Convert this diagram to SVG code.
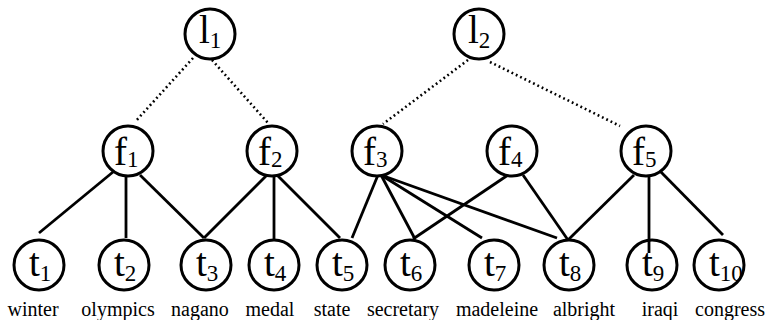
<svg xmlns="http://www.w3.org/2000/svg" width="767" height="320" viewBox="0 0 767 320">
<style>
.n{fill:#fff;stroke:#000;stroke-width:3}
.s{stroke:#000;stroke-width:2.8;fill:none}
.d{stroke:#000;stroke-width:2.6;fill:none;stroke-dasharray:1.8 3}
.lb{font-size:39px;fill:#000}
.sb{font-size:23px}
.w{font-size:20px;fill:#000;text-anchor:middle}
</style>
<rect width="767" height="320" fill="#fff"/>
<g id="connectors">
<line class="d" x1="193" y1="58" x2="135" y2="122"/>
<line class="d" x1="212" y1="60" x2="268" y2="123"/>
<line class="d" x1="468" y1="60" x2="383" y2="124"/>
<line class="d" x1="490" y1="62" x2="620" y2="126"/>
<line class="s" x1="113" y1="172" x2="39" y2="233"/>
<line class="s" x1="126" y1="175" x2="126" y2="238"/>
<line class="s" x1="140" y1="175" x2="204" y2="238"/>
<line class="s" x1="267" y1="175" x2="204" y2="238"/>
<line class="s" x1="274" y1="175" x2="274" y2="239"/>
<line class="s" x1="277" y1="175" x2="340" y2="238"/>
<line class="s" x1="378" y1="175" x2="352" y2="238"/>
<line class="s" x1="381" y1="175" x2="415" y2="239"/>
<line class="s" x1="381" y1="175" x2="482" y2="238"/>
<line class="s" x1="381" y1="175" x2="557" y2="238"/>
<line class="s" x1="508" y1="175" x2="413" y2="239"/>
<line class="s" x1="523" y1="175" x2="568" y2="240"/>
<line class="s" x1="634" y1="175" x2="568" y2="240"/>
<line class="s" x1="649" y1="173" x2="649" y2="253"/>
<line class="s" x1="657" y1="168" x2="723" y2="235"/>
</g>
<g font-family="Liberation Serif, Times New Roman, serif">
<g id="l1"><circle class="n" cx="210" cy="34" r="25"/><text class="lb" x="199" y="43">l<tspan class="sb" dy="5">1</tspan></text></g>
<g id="l2"><circle class="n" cx="479" cy="34" r="25"/><text class="lb" x="468" y="43">l<tspan class="sb" dy="5">2</tspan></text></g>
<g id="f1"><circle class="n" cx="128" cy="151" r="25"/><text class="lb" x="114" y="165">f<tspan class="sb" dy="2">1</tspan></text></g>
<g id="f2"><circle class="n" cx="272" cy="151" r="25"/><text class="lb" x="258" y="165">f<tspan class="sb" dy="2">2</tspan></text></g>
<g id="f3"><circle class="n" cx="377" cy="151" r="25"/><text class="lb" x="363" y="165">f<tspan class="sb" dy="2">3</tspan></text></g>
<g id="f4"><circle class="n" cx="512" cy="151" r="25"/><text class="lb" x="498" y="165">f<tspan class="sb" dy="2">4</tspan></text></g>
<g id="f5"><circle class="n" cx="646" cy="151" r="25"/><text class="lb" x="632" y="165">f<tspan class="sb" dy="2">5</tspan></text></g>
<g id="t1"><circle class="n" cx="39" cy="265" r="25"/><text class="lb" x="29" y="276">t<tspan class="sb" dy="5">1</tspan></text></g>
<g id="t2"><circle class="n" cx="124" cy="265" r="25"/><text class="lb" x="114" y="276">t<tspan class="sb" dy="5">2</tspan></text></g>
<g id="t3"><circle class="n" cx="206" cy="265" r="25"/><text class="lb" x="196" y="276">t<tspan class="sb" dy="5">3</tspan></text></g>
<g id="t4"><circle class="n" cx="274" cy="265" r="25"/><text class="lb" x="264" y="276">t<tspan class="sb" dy="5">4</tspan></text></g>
<g id="t5"><circle class="n" cx="342" cy="265" r="25"/><text class="lb" x="332" y="276">t<tspan class="sb" dy="5">5</tspan></text></g>
<g id="t6"><circle class="n" cx="410" cy="265" r="25"/><text class="lb" x="400" y="276">t<tspan class="sb" dy="5">6</tspan></text></g>
<g id="t7"><circle class="n" cx="494" cy="265" r="25"/><text class="lb" x="484" y="276">t<tspan class="sb" dy="5">7</tspan></text></g>
<g id="t8"><circle class="n" cx="569" cy="265" r="25"/><text class="lb" x="559" y="276">t<tspan class="sb" dy="5">8</tspan></text></g>
<g id="t9"><circle class="n" cx="652" cy="265" r="25"/><text class="lb" x="642" y="276">t<tspan class="sb" dy="5">9</tspan></text></g>
<g id="t10"><circle class="n" cx="719" cy="265" r="25"/><text class="lb" x="709" y="276">t<tspan class="sb" dy="5">10</tspan></text></g>
<line class="s" x1="649" y1="240" x2="649" y2="253"/>
<g id="words">
<text class="w" x="33" y="316">winter</text>
<text class="w" x="118" y="316">olympics</text>
<text class="w" x="200" y="316">nagano</text>
<text class="w" x="270" y="316">medal</text>
<text class="w" x="332" y="316">state</text>
<text class="w" x="403" y="316">secretary</text>
<text class="w" x="497" y="316">madeleine</text>
<text class="w" x="584" y="316">albright</text>
<text class="w" x="660" y="316">iraqi</text>
<text class="w" x="730" y="316">congress</text>
</g>
</g>
</svg>
